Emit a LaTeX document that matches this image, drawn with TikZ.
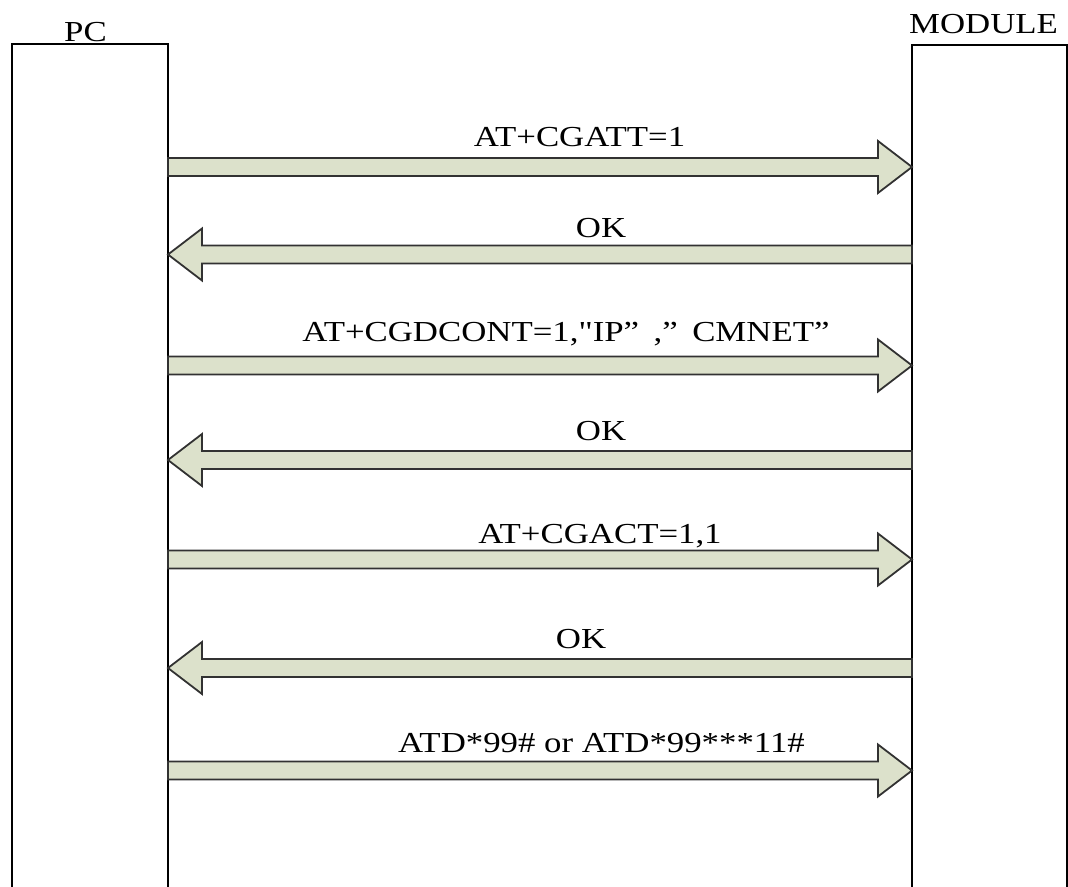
\documentclass[tikz,border=0pt]{standalone}
\usepackage{fontspec}
\setmainfont[FakeStretch=1.2, Ligatures=TeXOff]{Liberation Serif}
\usetikzlibrary{positioning,calc}
\definecolor{arrowfill}{RGB}{220,225,203}
\definecolor{arrowline}{RGB}{50,50,50}
\tikzset{
lifeline/.style={draw=black, line width=1.4pt, inner sep=0pt, outer sep=0pt, anchor=north west, minimum height=860pt}, % the two tall boxes
msg/.style={font=\fontsize{29}{33}\selectfont, anchor=base, inner sep=0pt}, % text over an arrow
fat/.style={draw=arrowline, fill=arrowfill, line width=1.8pt, line join=miter,
  to path={let \p1=(\tikztostart), \p2=(\tikztotarget), \n1={(\x2>\x1) ? 34 : -34} in
    (\x1,{\y1+9pt}) -- ({\x2-(\n1)*1pt},{\y1+9pt}) -- ({\x2-(\n1)*1pt},{\y1+26pt})
    -- (\x2,\y1) -- ({\x2-(\n1)*1pt},{\y1-26pt}) -- ({\x2-(\n1)*1pt},{\y1-9pt})
    -- (\x1,{\y1-9pt}) -- cycle}}, % block arrow from start to target
}

\begin{document}
\begin{tikzpicture}[x=1pt, y=-1pt]
  \useasboundingbox (0,0) rectangle (1068,886);

  \node[lifeline, minimum width=156pt] (pc) at (12,44) {};
  \node[lifeline, minimum width=155pt] (mod) at (912,45) {};
  \node[msg] (pclabel) at (85.5,41) {PC};
  \node[msg] (modlabel) at (983.5,33) {MODULE};

  \coordinate (r1) at (0,167);
  \coordinate (r2) at (0,254.5);
  \coordinate (r3) at (0,365.5);
  \coordinate (r4) at (0,460);
  \coordinate (r5) at (0,559.5);
  \coordinate (r6) at (0,668);
  \coordinate (r7) at (0,770.5);

  \draw[fat] (pc.east |- r1) to (mod.west |- r1);
  \draw[fat] (mod.west |- r2) to (pc.east |- r2);
  \draw[fat] (pc.east |- r3) to (mod.west |- r3);
  \draw[fat] (mod.west |- r4) to (pc.east |- r4);
  \draw[fat] (pc.east |- r5) to (mod.west |- r5);
  \draw[fat] (mod.west |- r6) to (pc.east |- r6);
  \draw[fat] (pc.east |- r7) to (mod.west |- r7);

  \node[msg] (m1) at (579.5,146) {AT+CGATT=1};
  \node[msg] (m2) at (601,237) {OK};
  \node[msg] (m3) at (566,341) {AT+CGDCONT=1,"IP”\hspace{0.5em},”\hspace{0.5em}CMNET”};
  \node[msg] (m4) at (601,440) {OK};
  \node[msg] (m5) at (600,543) {AT+CGACT=1,1};
  \node[msg] (m6) at (581,648) {OK};
  \node[msg] (m7) at (601.5,752) {ATD*99\# or ATD*99***11\#};
\end{tikzpicture}
\end{document}
